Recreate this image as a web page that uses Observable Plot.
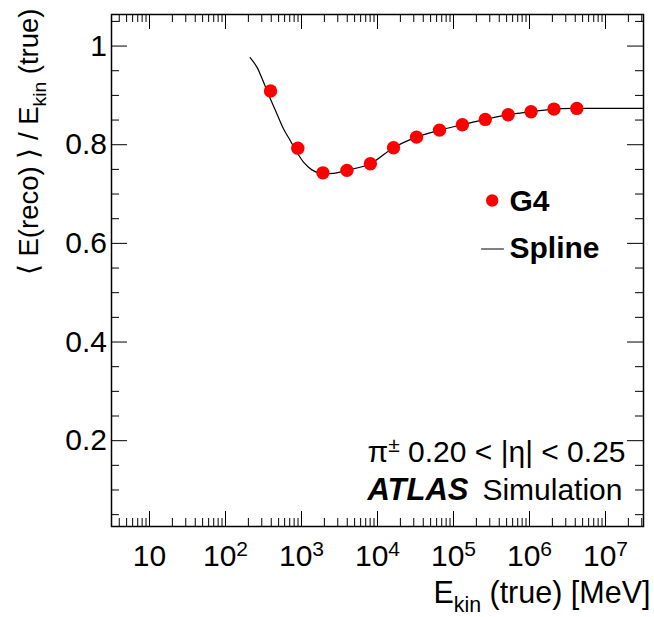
<!DOCTYPE html>
<html>
<head>
<meta charset="utf-8">
<script src="https://cdn.jsdelivr.net/npm/d3@7"></script>
<script src="https://cdn.jsdelivr.net/npm/@observablehq/plot@0.6"></script>
<style>
  html, body { margin: 0; padding: 0; background: #fff; }
  #chart svg { display: block; }
</style>
</head>
<body>
<div id="chart"></div>
<script>
// ---- data ----
const g4Energy = [391, 894, 1913, 3959, 8054, 16246, 32629, 65396, 130932, 262005, 524149, 1048437, 2097013, 4194165];
const g4Response = [0.909, 0.793, 0.743, 0.748, 0.7615, 0.794, 0.8154, 0.8296, 0.8406, 0.8513, 0.8609, 0.8669, 0.8722, 0.8736];

const splineEnergy = [211, 259, 316, 380, 474, 579, 710, 869, 1062, 1370, 1762, 2612, 3959, 8054, 16246, 32629, 65396, 130932, 262005, 524149, 1048437, 2097013, 4194165, 31622777];
const splineResponse = [0.9765, 0.9574, 0.927, 0.8966, 0.863, 0.8325, 0.8087, 0.785, 0.7647, 0.749, 0.742, 0.742, 0.748, 0.7615, 0.794, 0.8154, 0.8296, 0.8406, 0.8513, 0.8609, 0.8669, 0.8722, 0.8736, 0.8736];

const xMajorTicks = [10, 100, 1000, 10000, 100000, 1000000, 10000000];
const xTickLabels = ["10", "10^{2}", "10^{3}", "10^{4}", "10^{5}", "10^{6}", "10^{7}"];
const xMinorTicks = [4, 5, 6, 7, 8, 9,
  20, 30, 40, 50, 60, 70, 80, 90,
  200, 300, 400, 500, 600, 700, 800, 900,
  2000, 3000, 4000, 5000, 6000, 7000, 8000, 9000,
  20000, 30000, 40000, 50000, 60000, 70000, 80000, 90000,
  200000, 300000, 400000, 500000, 600000, 700000, 800000, 900000,
  2000000, 3000000, 4000000, 5000000, 6000000, 7000000, 8000000, 9000000,
  20000000, 30000000];
const yMajorTicks = [0.2, 0.4, 0.6, 0.8, 1.0];
const yTickLabels = ["0.2", "0.4", "0.6", "0.8", "1"];
const yMinorTicks = [0.05, 0.1, 0.15, 0.25, 0.3, 0.35, 0.45, 0.5, 0.55, 0.65, 0.7, 0.75, 0.85, 0.9, 0.95, 1.05];

const legendLabels = ["G4", "Spline"];
const yTitle = "⟨ E(reco) ⟩ / E_{kin} (true)";
const xTitle = "E_{kin} (true) [MeV]";
const etaText = "π^{±} 0.20 < |η| < 0.25";

// ---- layout ----
const W = 654, H = 617, ML = 111, MR = 11, MT = 14, MB = 91;
const FW = W - ML - MR, FH = H - MT - MB;
const FS = 30;
const FONT = "'Liberation Sans', Arial, Helvetica, sans-serif";

const g4 = g4Energy.map((e, i) => ({e, r: g4Response[i]}));
const spline = splineEnergy.map((e, i) => ({e, r: splineResponse[i]}));

const plot = Plot.plot({
  width: W, height: H,
  marginLeft: ML, marginRight: MR, marginTop: MT, marginBottom: MB,
  style: {fontFamily: FONT, background: "#fff", color: "#000", overflow: "visible"},
  x: {type: "log", domain: [Math.sqrt(10), Math.sqrt(10) * 1e7], axis: null},
  y: {domain: [0.026, 1.064], axis: null},
  marks: [
    // ticks on all four sides (ROOT style, pointing inward)
    Plot.tickY(yMajorTicks, {y: d => d, insetRight: FW - 16, stroke: "#000"}),
    Plot.tickY(yMajorTicks, {y: d => d, insetLeft: FW - 16, stroke: "#000"}),
    Plot.tickY(yMinorTicks, {y: d => d, insetRight: FW - 8, stroke: "#000"}),
    Plot.tickY(yMinorTicks, {y: d => d, insetLeft: FW - 8, stroke: "#000"}),
    Plot.tickX(xMajorTicks, {x: d => d, insetTop: FH - 15, stroke: "#000"}),
    Plot.tickX(xMajorTicks, {x: d => d, insetBottom: FH - 15, stroke: "#000"}),
    Plot.tickX(xMinorTicks, {x: d => d, insetTop: FH - 8, stroke: "#000"}),
    Plot.tickX(xMinorTicks, {x: d => d, insetBottom: FH - 8, stroke: "#000"}),
    Plot.frame({stroke: "#000", strokeWidth: 1.5}),
    // tick labels
    Plot.text(yMajorTicks, {y: d => d, text: (d, i) => yTickLabels[i], frameAnchor: "left", textAnchor: "end", dx: -4.5, fontSize: FS}),
    Plot.text(xMajorTicks, {x: d => d, text: (d, i) => xTickLabels[i], frameAnchor: "bottom", lineAnchor: "bottom", dy: 39, fontSize: FS}),
    // axis titles
    Plot.text([xTitle], {text: d => d, frameAnchor: "bottom-right", textAnchor: "end", lineAnchor: "bottom", dx: 7, dy: 76, fontSize: 30.5}),
    Plot.text([yTitle], {text: d => d, frameAnchor: "top-left", rotate: -90, textAnchor: "end", lineAnchor: "bottom", dx: 37 - ML, dy: 8 - MT, fontSize: 27.5}),
    // data
    Plot.line(spline, {x: "e", y: "r", curve: "catmull-rom", stroke: "#000", strokeWidth: 1.2}),
    Plot.dot(g4, {x: "e", y: "r", r: 6.7, fill: "#ff0000", stroke: null}),
    // legend
    Plot.dot([0], {frameAnchor: "top-left", dx: 491.7 - ML, dy: 200 - MT, r: 6.2, fill: "#ff0000", stroke: null}),
    Plot.text([legendLabels[0]], {text: d => d, frameAnchor: "top-left", textAnchor: "start", lineAnchor: "bottom", dx: 509 - ML, dy: 210 - MT, fontSize: FS, fontWeight: "bold"}),
    Plot.vector([0], {frameAnchor: "top-left", dx: 481 - ML, dy: 248.5 - MT, length: 22, rotate: 90, anchor: "start",
      shape: {draw(ctx, l) { ctx.moveTo(0, 0); ctx.lineTo(0, -l); }}, stroke: "#000", strokeWidth: 1}),
    Plot.text([legendLabels[1]], {text: d => d, frameAnchor: "top-left", textAnchor: "start", lineAnchor: "bottom", dx: 509 - ML, dy: 257 - MT, fontSize: FS, fontWeight: "bold"}),
    // annotations
    Plot.text([etaText], {text: d => d, frameAnchor: "bottom-right", textAnchor: "end", lineAnchor: "bottom", dx: 625 - (W - MR), dy: 461 - (H - MB), fontSize: FS}),
    Plot.text(["ATLAS"], {text: d => d, frameAnchor: "bottom-left", textAnchor: "start", lineAnchor: "bottom", dx: 367 - ML, dy: 499 - (H - MB), fontSize: 31, fontWeight: "bold", fontStyle: "italic"}),
    Plot.text(["Simulation"], {text: d => d, frameAnchor: "bottom-right", textAnchor: "end", lineAnchor: "bottom", dx: 622 - (W - MR), dy: 499 - (H - MB), fontSize: FS})
  ]
});

document.getElementById("chart").appendChild(plot);

// turn _{..} and ^{..} into sub/superscript tspans
function richify(root) {
  root.querySelectorAll("text").forEach(t => {
    const s = t.textContent;
    if (!/[_^]\{/.test(s)) return;
    const fs = parseFloat(getComputedStyle(t).fontSize) || FS;
    while (t.firstChild) t.removeChild(t.firstChild);
    const re = /([_^])\{([^}]*)\}/g;
    let last = 0, m, shift = 0;
    const add = (str, size, dy) => {
      const ts = document.createElementNS("http://www.w3.org/2000/svg", "tspan");
      ts.textContent = str;
      if (size) ts.setAttribute("font-size", size);
      if (dy) ts.setAttribute("dy", dy);
      t.appendChild(ts);
    };
    while ((m = re.exec(s))) {
      if (m.index > last) { add(s.slice(last, m.index), null, -shift || null); shift = 0; }
      const d = m[1] === "_" ? 0.3 * fs : -0.32 * fs;
      add(m[2], 0.7 * fs, d - shift);
      shift = d;
      last = re.lastIndex;
    }
    if (last < s.length) { add(s.slice(last), null, -shift || null); shift = 0; }
  });
}
richify(plot);
</script>
</body>
</html>
